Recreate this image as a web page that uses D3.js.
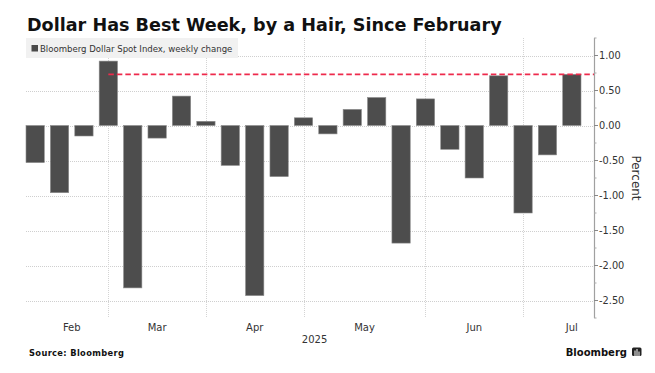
<!DOCTYPE html>
<html><head><meta charset="utf-8">
<script src="https://cdn.jsdelivr.net/npm/d3@7"></script>
<style>
html,body{margin:0;padding:0;background:#fff;}
svg{display:block;font-family:"DejaVu Sans",sans-serif;}
</style></head>
<body>
<svg id="c" width="655" height="373"></svg>
<script>
// Week ending dates (Fridays), 2025
const weeks = ["2025-02-07","2025-02-14","2025-02-21","2025-02-28","2025-03-07","2025-03-14","2025-03-21","2025-03-28",
  "2025-04-04","2025-04-11","2025-04-18","2025-04-25","2025-05-02","2025-05-09","2025-05-16","2025-05-23","2025-05-30",
  "2025-06-06","2025-06-13","2025-06-20","2025-06-27","2025-07-04","2025-07-11"];
// Bloomberg Dollar Spot Index, weekly change (%)
const changes = [-0.53,-0.96,-0.15,0.92,-2.32,-0.18,0.42,0.06,-0.57,-2.43,-0.73,0.11,-0.12,0.23,0.40,-1.68,0.38,-0.34,-0.75,0.71,-1.25,-0.42,0.73];
// Month tick labels and their positions (in week-index units)
const monthLabels = ["Feb","Mar","Apr","May","Jun","Jul"];
const monthLabelPos = [1.5,5,9,13.5,18,22];
// Month gridlines at last week of each month
const monthGridWeeks = ["2025-02-28","2025-03-28","2025-04-25","2025-05-30","2025-06-27"];
const yTicks = [1.0,0.5,0.0,-0.5,-1.0,-1.5,-2.0,-2.5];
const yMinorTicks = [1.25,0.75,0.25,-0.25,-0.75,-1.25,-1.75,-2.25,-2.75];
const refStart = "2025-02-28";
const refValue = changes[changes.length-1];
const yearLabel = "2025";

const svg = d3.select("#c");
const pLeft = 26, pRight = 594, pTop = 38, pBottom = 318;

const x = d3.scaleBand().domain(weeks).range([26, 581]).paddingInner(0.25).paddingOuter(0);
const xc = d => x(d) + x.bandwidth()/2;
const xi = d3.scaleLinear().domain([0, weeks.length-1]).range([xc(weeks[0]), xc(weeks[weeks.length-1])]);
const y = d3.scaleLinear().domain([-2.75, 1.25]).range([pBottom, pTop]);

// Title
svg.append("text").attr("x",27).attr("y",31).attr("font-weight","bold").attr("font-size",17.6)
  .attr("fill","#111").text("Dollar Has Best Week, by a Hair, Since February");

// horizontal gridlines
svg.append("g").selectAll("line").data(yTicks).join("line")
  .attr("x1",pLeft).attr("x2",pRight).attr("y1",d=>Math.round(y(d))+0.5).attr("y2",d=>Math.round(y(d))+0.5)
  .attr("stroke","#cfcfcf").attr("stroke-width",1).attr("stroke-dasharray","1,1");
// vertical gridlines
svg.append("g").selectAll("line").data(monthGridWeeks).join("line")
  .attr("x1",d=>Math.round(xc(d))+0.5).attr("x2",d=>Math.round(xc(d))+0.5).attr("y1",pTop).attr("y2",pBottom)
  .attr("stroke","#d4d4d4").attr("stroke-width",1).attr("stroke-dasharray","1,1");

// Legend
svg.append("rect").attr("x",26).attr("y",38).attr("width",212).attr("height",20).attr("fill","#f1f1f1");
svg.append("rect").attr("x",31.5).attr("y",45).attr("width",6.5).attr("height",6.5).attr("fill","#4a4a4a");
svg.append("text").attr("x",40).attr("y",52).attr("font-size",9.5)
  .attr("font-family","'DejaVu Sans Condensed','DejaVu Sans',sans-serif").attr("font-stretch","condensed")
  .attr("fill","#333").text("Bloomberg Dollar Spot Index, weekly change");

// Bars
svg.append("g").selectAll("rect").data(weeks).join("rect")
  .attr("x",d=>x(d)).attr("width",x.bandwidth())
  .attr("y",(d,i)=>y(Math.max(0,changes[i])))
  .attr("height",(d,i)=>Math.abs(y(changes[i])-y(0)))
  .attr("fill","#4d4d4d").attr("stroke","#8c8c8c").attr("stroke-width",0.6);

// Reference dashed line
svg.append("line").attr("x1",xc(refStart)).attr("x2",pRight).attr("y1",y(refValue)).attr("y2",y(refValue))
  .attr("stroke","#ee2a4c").attr("stroke-width",1.6).attr("stroke-dasharray","5.5,3");

// Y axis (right)
const fmt = d3.formatLocale({decimal:".",thousands:",",grouping:[3],currency:["$",""],minus:"-"}).format(".2f");
svg.append("line").attr("x1",pRight+0.5).attr("x2",pRight+0.5).attr("y1",pTop).attr("y2",pBottom)
  .attr("stroke","#a0a0a0").attr("stroke-width",1.2);
svg.append("g").selectAll("line").data(yTicks).join("line")
  .attr("x1",pRight).attr("x2",pRight+4).attr("y1",d=>y(d)).attr("y2",d=>y(d)).attr("stroke","#888");
svg.append("g").selectAll("line").data(yMinorTicks).join("line")
  .attr("x1",pRight).attr("x2",pRight+2.5).attr("y1",d=>y(d)).attr("y2",d=>y(d)).attr("stroke","#aaa");
svg.append("g").selectAll("text").data(yTicks).join("text")
  .attr("x",599).attr("y",d=>y(d)).attr("dy","0.35em").attr("font-size",9.8).attr("fill","#333")
  .text(d=>fmt(d));
svg.append("text").attr("transform",`translate(632,178) rotate(90)`).attr("text-anchor","middle")
  .attr("font-size",12).attr("fill","#333").text("Percent");

// X labels
svg.append("g").selectAll("text").data(monthLabels).join("text")
  .attr("x",(d,i)=>xi(monthLabelPos[i])).attr("y",330.5).attr("text-anchor","middle")
  .attr("font-size",10).attr("fill","#333").text(d=>d);
svg.append("text").attr("x",(xc(weeks[0])+pRight)/2).attr("y",343).attr("text-anchor","middle")
  .attr("font-size",10).attr("fill","#333").text(yearLabel);

// Footer
svg.append("text").attr("x",29).attr("y",356).attr("font-weight","bold").attr("font-size",8.3)
  .attr("letter-spacing",0.35).attr("fill","#111").text("Source: Bloomberg");
svg.append("text").attr("x",627).attr("y",355.7).attr("text-anchor","end").attr("font-weight","bold")
  .attr("font-size",10).attr("fill","#111").text("Bloomberg");
const lg = svg.append("g").attr("transform","translate(632,347.5)");
lg.append("rect").attr("width",9.5).attr("height",8.5).attr("rx",1.5).attr("fill","#222");
lg.append("line").attr("x1",3).attr("x2",3).attr("y1",3).attr("y2",8.5).attr("stroke","#fff").attr("stroke-width",1);
lg.append("line").attr("x1",5).attr("x2",5).attr("y1",1.5).attr("y2",8.5).attr("stroke","#fff").attr("stroke-width",1);
lg.append("line").attr("x1",7).attr("x2",7).attr("y1",4).attr("y2",8.5).attr("stroke","#fff").attr("stroke-width",1);
</script>
</body></html>
